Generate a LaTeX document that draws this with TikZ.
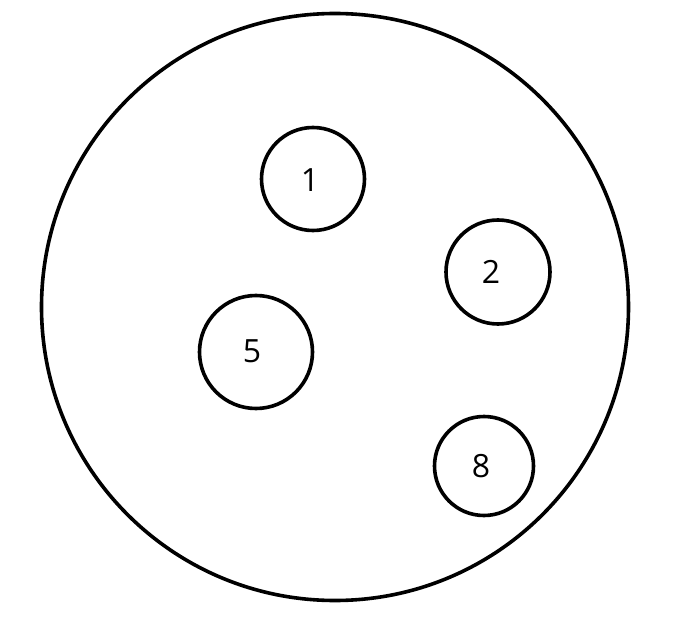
\documentclass[tikz,border=0pt]{standalone}
\usepackage{fontspec}
\setmainfont{Open Sans}
\begin{document}
\begin{tikzpicture}[x=1pt,y=-1pt,
  ring/.style={circle,draw=black,line width=3.6pt,inner sep=0pt},
  lbl/.style={font=\fontsize{32}{34}\selectfont,inner sep=0pt}]
\useasboundingbox (0,0) rectangle (694,623);
\fill[white] (0,0) rectangle (694,623);
\node[ring,minimum size=587pt] (outer) at (335,307) {};
\node[ring,minimum size=103pt] (c1) at (313,179) {};
\node[ring,minimum size=104pt] (c2) at (498,272) {};
\node[ring,minimum size=113pt] (c5) at (256,352) {};
\node[ring,minimum size=99pt] (c8) at (484,466) {};
\node[lbl] (t1) at (310,180) {1};
\node[lbl] (t2) at (491,272) {2};
\node[lbl] (t5) at (252,351) {5};
\node[lbl] (t8) at (481,466) {8};
\end{tikzpicture}
\end{document}
